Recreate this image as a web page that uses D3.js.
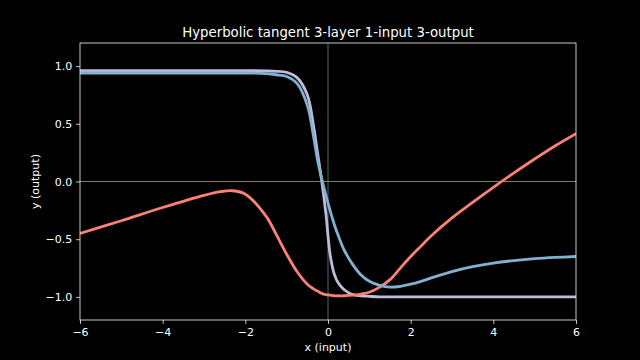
<!DOCTYPE html>
<html>
<head>
<meta charset="utf-8">
<script src="https://cdn.jsdelivr.net/npm/d3@7"></script>
<style>
  html, body { margin: 0; padding: 0; background: #000; }
  svg { display: block; font-family: "DejaVu Sans", sans-serif; }
</style>
</head>
<body>
<svg id="chart" width="640" height="360"></svg>
<script>
// sample points
const xs = [-6, -5, -4, -3, -2.6, -2.3, -2, -1.5, -1.25, -1, -0.75, -0.5, -0.35, -0.25, -0.15, -0.05,
            0.05, 0.15, 0.25, 0.4, 0.6, 0.8, 1, 1.25, 1.5, 1.75, 2, 2.25, 2.5, 3, 3.5, 4, 4.5, 5, 5.5, 6];

const purpleVals = [0.96, 0.96, 0.96, 0.96, 0.96, 0.96, 0.96, 0.958, 0.955, 0.945, 0.9, 0.75, 0.48, 0.24, 0.0, -0.28,
                    -0.63, -0.8, -0.88, -0.94, -0.98, -0.99, -0.995, -1, -1, -1, -1, -1, -1, -1, -1, -1, -1, -1, -1, -1];

const redVals = [-0.45, -0.34, -0.225, -0.12, -0.088, -0.08, -0.11, -0.3, -0.46, -0.63, -0.78, -0.89, -0.93, -0.95, -0.97, -0.98,
                 -0.985, -0.99, -0.99, -0.99, -0.985, -0.975, -0.96, -0.915, -0.85, -0.75, -0.65, -0.56, -0.47, -0.315, -0.18, -0.05, 0.075, 0.195, 0.31, 0.415];

const blueVals = [0.94, 0.94, 0.94, 0.94, 0.94, 0.94, 0.94, 0.935, 0.925, 0.91, 0.85, 0.66, 0.39, 0.18, 0.02, -0.12,
                  -0.25, -0.37, -0.47, -0.6, -0.72, -0.81, -0.865, -0.9, -0.915, -0.908, -0.89, -0.865, -0.835, -0.78, -0.738, -0.707, -0.685, -0.669, -0.658, -0.65];

const xTicks = [-6, -4, -2, 0, 2, 4, 6];
const yTicks = [-1.0, -0.5, 0.0, 0.5, 1.0];

const series = [
  { name: 'out0', vals: purpleVals, color: '#bfbbd9' },
  { name: 'out1', vals: redVals, color: '#fa8174' },
  { name: 'out2', vals: blueVals, color: '#81b1d2' }
];

const W = 640, H = 360;
const m = { left: 80, right: 64, top: 43, bottom: 40 };

const svg = d3.select('#chart');

const x = d3.scaleLinear().domain([-6, 6]).range([m.left, W - m.right]);
const y = d3.scaleLinear().domain([-1.2, 1.2]).range([H - m.bottom, m.top]);

svg.append('defs').append('clipPath').attr('id', 'plot')
  .append('rect')
  .attr('x', m.left).attr('y', m.top)
  .attr('width', W - m.left - m.right).attr('height', H - m.top - m.bottom);

const plot = svg.append('g').attr('clip-path', 'url(#plot)');

// zero lines
plot.append('line')
  .attr('x1', x(0)).attr('x2', x(0))
  .attr('y1', m.top).attr('y2', H - m.bottom)
  .attr('stroke', '#427163').attr('stroke-width', 1);
plot.append('line')
  .attr('x1', m.left).attr('x2', W - m.right)
  .attr('y1', y(0)).attr('y2', y(0))
  .attr('stroke', '#80805a').attr('stroke-width', 1);

const line = d3.line()
  .x((d, i) => x(xs[i]))
  .y(d => y(d))
  .curve(d3.curveCatmullRom.alpha(0.5));

series.forEach(s => {
  plot.append('path')
    .datum(s.vals)
    .attr('d', line)
    .attr('fill', 'none')
    .attr('stroke', s.color)
    .attr('stroke-width', 2.8)
    .attr('stroke-linejoin', 'round');
});

// axes
const fmtX = d => d < 0 ? '\u2212' + Math.abs(d) : String(d);
const fmtY = d => (d < 0 ? '\u2212' : '') + Math.abs(d).toFixed(1);

const xAxis = svg.append('g')
  .attr('transform', `translate(0,${H - m.bottom})`)
  .call(d3.axisBottom(x).tickValues(xTicks).tickFormat(fmtX).tickSize(3.9).tickPadding(3.9));
const yAxis = svg.append('g')
  .attr('transform', `translate(${m.left},0)`)
  .call(d3.axisLeft(y).tickValues(yTicks).tickFormat(fmtY).tickSize(3.9).tickPadding(3.9));

[xAxis, yAxis].forEach(a => {
  a.select('.domain').remove();
  a.selectAll('.tick line').attr('stroke', '#ddd').attr('stroke-width', 0.9);
  a.selectAll('.tick text').attr('fill', '#fff').style('font-size', '11px')
    .style('font-family', '"DejaVu Sans", sans-serif');
});

// frame
svg.append('rect')
  .attr('x', m.left).attr('y', m.top)
  .attr('width', W - m.left - m.right).attr('height', H - m.top - m.bottom)
  .attr('fill', 'none').attr('stroke', '#ddd').attr('stroke-width', 0.9);

// texts
svg.append('text')
  .attr('x', (m.left + W - m.right) / 2).attr('y', 37)
  .attr('text-anchor', 'middle').attr('fill', '#fff')
  .style('font-size', '13.3px')
  .text('Hyperbolic tangent 3-layer 1-input 3-output');

svg.append('text')
  .attr('x', (m.left + W - m.right) / 2).attr('y', 351)
  .attr('text-anchor', 'middle').attr('fill', '#fff')
  .style('font-size', '11px')
  .text('x (input)');

svg.append('text')
  .attr('transform', `translate(39,${(m.top + H - m.bottom) / 2}) rotate(-90)`)
  .attr('text-anchor', 'middle').attr('fill', '#fff')
  .style('font-size', '11px')
  .text('y (output)');
</script>
</body>
</html>
